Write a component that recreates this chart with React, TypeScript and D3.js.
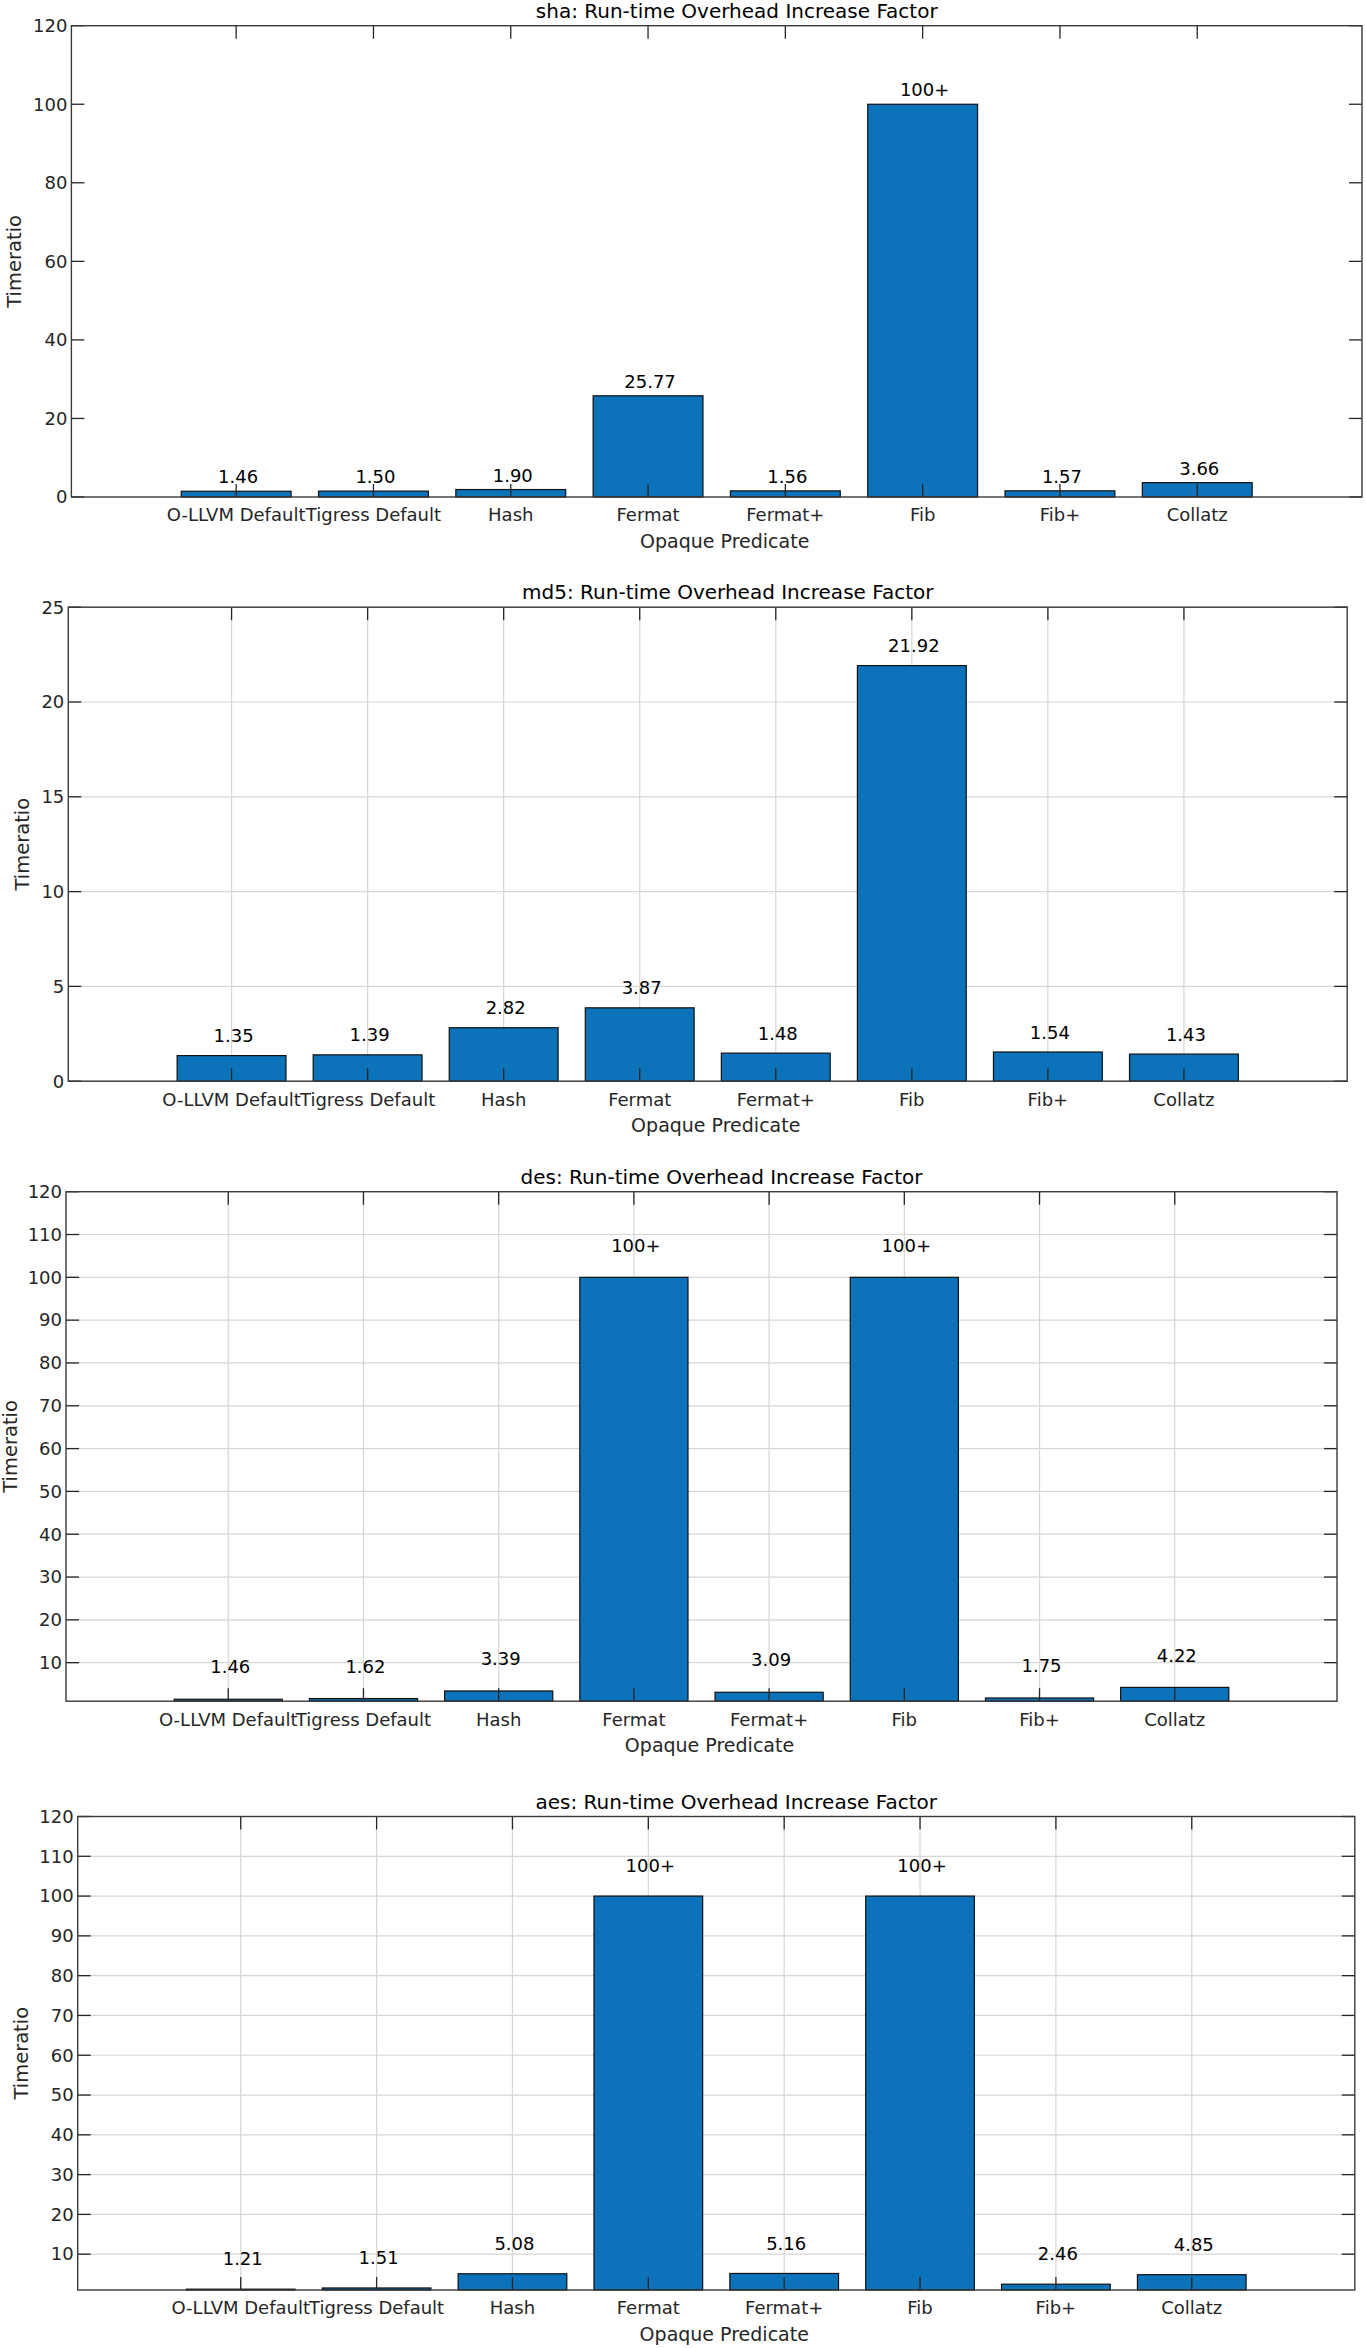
import * as d3 from "d3";

// categories on the x axis, shared by all four panels
const categories = [
  "O-LLVM Default",
  "Tigress Default",
  "Hash",
  "Fermat",
  "Fermat+",
  "Fib",
  "Fib+",
  "Collatz",
];

// bar heights (100 = capped, shown as "100+")
const shaValues = [1.46, 1.5, 1.9, 25.77, 1.56, 100, 1.57, 3.66];
const md5Values = [1.35, 1.39, 2.82, 3.87, 1.48, 21.92, 1.54, 1.43];
const desValues = [1.46, 1.62, 3.39, 100, 3.09, 100, 1.75, 4.22];
const aesValues = [1.21, 1.51, 5.08, 100, 5.16, 100, 2.46, 4.85];

// text above each bar
const shaLabels = ["1.46", "1.50", "1.90", "25.77", "1.56", "100+", "1.57", "3.66"];
const md5Labels = ["1.35", "1.39", "2.82", "3.87", "1.48", "21.92", "1.54", "1.43"];
const desLabels = ["1.46", "1.62", "3.39", "100+", "3.09", "100+", "1.75", "4.22"];
const aesLabels = ["1.21", "1.51", "5.08", "100+", "5.16", "100+", "2.46", "4.85"];

// y tick values
const shaTicks = [0, 20, 40, 60, 80, 100, 120];
const md5Ticks = [0, 5, 10, 15, 20, 25];
const desTicks = [10, 20, 30, 40, 50, 60, 70, 80, 90, 100, 110, 120];
const aesTicks = [10, 20, 30, 40, 50, 60, 70, 80, 90, 100, 110, 120];

const W = 1366;
const H = 2348;
const FONT = "'DejaVu Sans', sans-serif";
const AXIS = "#262626";
const BOX = "#3a3a3a";
const GRID = "#d6d6d6";
const BAR = "#0C72BA";
const TICK_LEN = 13;

const panels = [
  {
    name: "sha", values: shaValues, labels: shaLabels, ticks: shaTicks,
    yDomain: [0, 120], grid: false,
    left: 71.4, right: 1362, top: 25.7, bottom: 497, labelOffset: 3.6, ylabelX: 14,
  },
  {
    name: "md5", values: md5Values, labels: md5Labels, ticks: md5Ticks,
    yDomain: [0, 25], grid: true,
    left: 68.3, right: 1347.2, top: 607.2, bottom: 1081.2, labelOffset: 1.04, ylabelX: 22,
  },
  {
    name: "des", values: desValues, labels: desLabels, ticks: desTicks,
    yDomain: [1, 120], grid: true,
    left: 66, right: 1337, top: 1191.7, bottom: 1701.2, labelOffset: 7.5, ylabelX: 10,
  },
  {
    name: "aes", values: aesValues, labels: aesLabels, ticks: aesTicks,
    yDomain: [1, 120], grid: true,
    left: 77.7, right: 1354.8, top: 1816.5, bottom: 2290, labelOffset: 7.6, ylabelX: 21,
  },
];

function Panel({ p }: { p: (typeof panels)[number] }) {
  // categories sit at 1..8, MATLAB-style limits
  const x = d3.scaleLinear().domain([-0.2, 9.2]).range([p.left, p.right]);
  const y = d3.scaleLinear().domain(p.yDomain).range([p.bottom, p.top]);
  const bw = x(0.8) - x(0);
  const cx = (i: number) => x(i + 1);
  const mid = (p.left + p.right) / 2;

  return (
    <g fontFamily={FONT}>
      {/* grid */}
      {p.grid && (
        <g stroke={GRID} strokeWidth={1.2}>
          {p.ticks.map((t) => (
            <line key={"gy" + t} x1={p.left} x2={p.right} y1={y(t)} y2={y(t)} />
          ))}
          {categories.map((c, i) => (
            <line key={"gx" + c} x1={cx(i)} x2={cx(i)} y1={p.top} y2={p.bottom} />
          ))}
        </g>
      )}

      {/* bars */}
      {p.values.map((v, i) => (
        <rect
          key={"b" + i}
          x={cx(i) - bw / 2}
          y={y(v)}
          width={bw}
          height={p.bottom - y(v)}
          fill={BAR}
          stroke="#111"
          strokeWidth={1.2}
        />
      ))}

      {/* tick marks, inside the box */}
      <g stroke={AXIS} strokeWidth={1.3}>
        {p.ticks.map((t) => (
          <g key={"t" + t}>
            <line x1={p.left} x2={p.left + TICK_LEN} y1={y(t)} y2={y(t)} />
            <line x1={p.right - TICK_LEN} x2={p.right} y1={y(t)} y2={y(t)} />
          </g>
        ))}
        {categories.map((c, i) => (
          <g key={"tx" + c}>
            <line x1={cx(i)} x2={cx(i)} y1={p.top} y2={p.top + TICK_LEN} />
            <line x1={cx(i)} x2={cx(i)} y1={p.bottom - TICK_LEN} y2={p.bottom} />
          </g>
        ))}
      </g>

      {/* box */}
      <rect
        x={p.left}
        y={p.top}
        width={p.right - p.left}
        height={p.bottom - p.top}
        fill="none"
        stroke={BOX}
        strokeWidth={1.4}
      />

      {/* y tick labels */}
      {p.ticks.map((t) => (
        <text
          key={"yl" + t}
          x={p.left - 4}
          y={y(t)}
          dy="0.35em"
          textAnchor="end"
          fontSize={18}
          fill={AXIS}
        >
          {t}
        </text>
      ))}

      {/* x tick labels */}
      {categories.map((c, i) => (
        <text
          key={"xl" + c}
          x={cx(i)}
          y={p.bottom + 18}
          dy="0.35em"
          textAnchor="middle"
          fontSize={18}
          fill={AXIS}
        >
          {c}
        </text>
      ))}

      {/* value labels */}
      {p.values.map((v, i) => (
        <text
          key={"vl" + i}
          x={cx(i) + 2}
          y={y(v + p.labelOffset)}
          dy="0.35em"
          textAnchor="middle"
          fontSize={18}
          fill="#000"
        >
          {p.labels[i]}
        </text>
      ))}

      {/* title */}
      <text
        x={mid + 20}
        y={p.top - 15}
        dy="0.35em"
        textAnchor="middle"
        fontSize={20}
        fill="#000"
      >
        {`${p.name}: Run-time Overhead Increase Factor`}
      </text>

      {/* axis labels */}
      <text
        x={mid + 8}
        y={p.bottom + 44}
        dy="0.35em"
        textAnchor="middle"
        fontSize={19}
        fill={AXIS}
      >
        Opaque Predicate
      </text>
      <text
        transform={`translate(${p.ylabelX},${(p.top + p.bottom) / 2}) rotate(-90)`}
        dy="0.35em"
        textAnchor="middle"
        fontSize={19.5}
        fill={AXIS}
      >
        Timeratio
      </text>
    </g>
  );
}

export default function App() {
  return (
    <svg
      width={W}
      height={H}
      viewBox={`0 0 ${W} ${H}`}
      style={{ position: "absolute", left: 0, top: 0, background: "#fff" }}
    >
      <rect width={W} height={H} fill="#fff" />
      {panels.map((p) => (
        <Panel key={p.name} p={p} />
      ))}
    </svg>
  );
}
